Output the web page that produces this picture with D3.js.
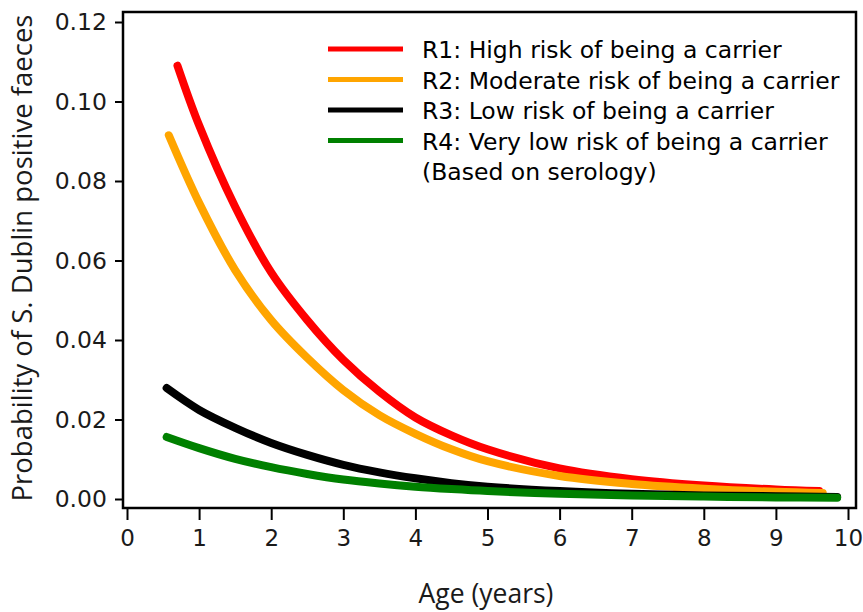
<!DOCTYPE html>
<html>
<head>
<meta charset="utf-8">
<script src="https://cdn.jsdelivr.net/npm/d3@7/dist/d3.min.js"></script>
<style>
  html, body { margin: 0; padding: 0; background: #fff; }
  svg { display: block; }
</style>
</head>
<body>
<svg id="chart" width="863" height="612"></svg>
<script>
// Age (years) and probability of S. Dublin positive faeces, per risk group
const r1Age  = [0.7, 1, 1.5, 2, 2.5, 3, 3.5, 4, 4.5, 5, 6, 7, 8, 9, 9.6];
const r1Prob = [0.109, 0.094, 0.0735, 0.057, 0.045, 0.035, 0.027, 0.0205, 0.016, 0.0125, 0.0077, 0.0050, 0.0034, 0.0024, 0.0020];

const r2Age  = [0.58, 1, 1.5, 2, 2.5, 3, 3.5, 4, 4.5, 5, 6, 7, 8, 9, 9.65];
const r2Prob = [0.0915, 0.0745, 0.0576, 0.045, 0.0355, 0.0274, 0.0211, 0.0164, 0.0125, 0.0095, 0.0058, 0.0038, 0.0026, 0.0018, 0.0015];

const r3Age  = [0.55, 1, 1.5, 2, 2.5, 3, 3.5, 4, 4.5, 5, 6, 7, 8, 9, 9.85];
const r3Prob = [0.0279, 0.0224, 0.0179, 0.0141, 0.0111, 0.0086, 0.0067, 0.0052, 0.0040, 0.0031, 0.0020, 0.0013, 0.0009, 0.0007, 0.0005];

const r4Age  = [0.55, 1, 1.5, 2, 2.5, 3, 3.5, 4, 4.5, 5, 6, 7, 8, 9, 9.85];
const r4Prob = [0.0156, 0.0128, 0.0101, 0.0080, 0.0063, 0.0049, 0.0039, 0.0031, 0.0025, 0.0020, 0.0013, 0.0009, 0.0006, 0.0004, 0.0003];

const seriesNames = [
  "R1: High risk of being a carrier",
  "R2: Moderate risk of being a carrier",
  "R3: Low risk of being a carrier",
  "R4: Very low risk of being a carrier"
];
const legendNote = "(Based on serology)";
const seriesColors = ["#ff0000", "#ffa500", "#000000", "#008000"];

const xTicks = [0, 1, 2, 3, 4, 5, 6, 7, 8, 9, 10];
const yTicks = [0, 0.02, 0.04, 0.06, 0.08, 0.10, 0.12];

const xTitle = "Age (years)";
const yTitle = "Probability of S. Dublin positive faeces";

// Layout
const svg = d3.select("#chart");
const frame = { left: 123, right: 856, top: 12, bottom: 508 };
const x = d3.scaleLinear().domain([0, 10]).range([127, 848]);
const y = d3.scaleLinear().domain([0, 0.12]).range([499, 22]);

const tickFont = "'DejaVu Sans', Verdana, sans-serif";
const titleFont = "'Open Sans', 'Noto Sans', sans-serif";

// Plot frame
svg.append("rect")
  .attr("x", frame.left).attr("y", frame.top)
  .attr("width", frame.right - frame.left)
  .attr("height", frame.bottom - frame.top)
  .attr("fill", "none").attr("stroke", "#000").attr("stroke-width", 2.5);

// X axis
const xAxis = d3.axisBottom(x).tickValues(xTicks).tickFormat(d3.format("d"))
  .tickSize(12).tickPadding(10);
const gx = svg.append("g").attr("transform", `translate(0,${frame.bottom})`).call(xAxis);
gx.select(".domain").remove();
gx.selectAll(".tick line").attr("stroke", "#000").attr("stroke-width", 2);
gx.selectAll(".tick text")
  .attr("font-family", tickFont).attr("font-size", 23).attr("fill", "#1a1a1a");

// Y axis
const yAxis = d3.axisLeft(y).tickValues(yTicks).tickFormat(d3.format(".2f"))
  .tickSize(8).tickPadding(8);
const gy = svg.append("g").attr("transform", `translate(${frame.left},0)`).call(yAxis);
gy.select(".domain").remove();
gy.selectAll(".tick line").attr("stroke", "#000").attr("stroke-width", 2);
gy.selectAll(".tick text")
  .attr("font-family", tickFont).attr("font-size", 23.5).attr("fill", "#1a1a1a");

// Axis titles
svg.append("text")
  .attr("x", 486).attr("y", 603)
  .attr("text-anchor", "middle")
  .attr("font-family", titleFont).attr("font-size", 26.5).attr("fill", "#1a1a1a")
  .text(xTitle);

svg.append("text")
  .attr("transform", "translate(32,258) rotate(-90)")
  .attr("text-anchor", "middle")
  .attr("font-family", titleFont).attr("font-size", 27.5).attr("fill", "#1a1a1a")
  .text(yTitle);

// Curves
const series = [
  { ages: r1Age, probs: r1Prob },
  { ages: r2Age, probs: r2Prob },
  { ages: r3Age, probs: r3Prob },
  { ages: r4Age, probs: r4Prob }
];
const line = d3.line()
  .x(d => x(d[0])).y(d => y(d[1]))
  .curve(d3.curveCatmullRom.alpha(0.5));

series.forEach((s, i) => {
  const pts = s.ages.map((a, j) => [a, s.probs[j]]);
  svg.append("path")
    .datum(pts)
    .attr("d", line)
    .attr("fill", "none")
    .attr("stroke", seriesColors[i])
    .attr("stroke-width", 8)
    .attr("stroke-linecap", "round")
    .attr("stroke-linejoin", "round");
});

// Legend
const legend = svg.append("g");
const legendTop = 49, legendStep = 30.5;
seriesNames.forEach((name, i) => {
  const ly = legendTop + i * legendStep;
  legend.append("line")
    .attr("x1", 328).attr("x2", 403).attr("y1", ly).attr("y2", ly)
    .attr("stroke", seriesColors[i]).attr("stroke-width", 5);
  legend.append("text")
    .attr("x", 422).attr("y", ly + 9)
    .attr("font-family", tickFont).attr("font-size", 23.5).attr("fill", "#000")
    .text(name);
});
legend.append("text")
  .attr("x", 422).attr("y", legendTop + 4 * legendStep + 9)
  .attr("font-family", tickFont).attr("font-size", 23.5).attr("fill", "#000")
  .text(legendNote);
</script>
</body>
</html>
